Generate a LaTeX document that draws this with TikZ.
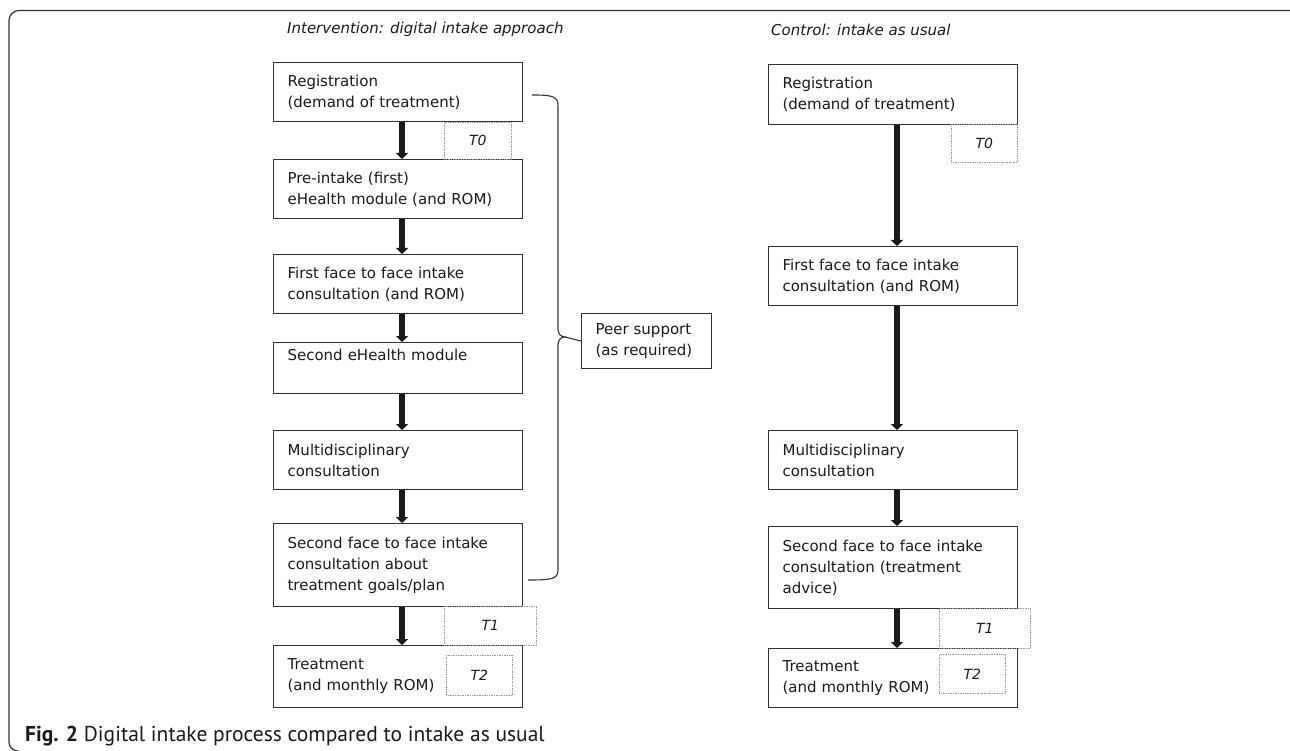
\documentclass[tikz,border=0pt]{standalone}
\usepackage{fontspec}
\setmainfont{DejaVu Sans}
\newfontfamily\capfont{PT Sans}
\usetikzlibrary{arrows.meta}
\definecolor{edge}{HTML}{333333}
\definecolor{ink}{HTML}{1A1A1A}
\begin{document}
\begin{tikzpicture}[x=1pt,y=-1pt,
  stepbox/.style={draw=edge,line width=1.1pt,anchor=north west,minimum width=249pt,
    text width=221pt,inner xsep=14pt,inner ysep=0pt,align=left,
    font=\fontsize{15}{21}\selectfont,text=ink},
  tbox/.style={draw=gray!80,densely dotted,line width=0.7pt,anchor=north west,inner sep=0pt,
    font=\fontsize{14}{16}\selectfont\itshape,text=ink},
  arr/.style={draw=ink,line width=6pt,-{Triangle[width=12pt,length=6pt]}},
  title/.style={anchor=base west,inner sep=0pt,font=\fontsize{15}{17}\selectfont\itshape,text=ink}]
\useasboundingbox (0,0) rectangle (1290,751);
% frame
\draw[edge,line width=1.2pt] (1290,10.5) -- (19,10.5) arc[start angle=270,end angle=180,radius=10] -- (9,742) arc[start angle=180,end angle=90,radius=9];
% titles
\node[title] (tl) at (287,34) {Intervention: digital intake approach};
\node[title] (tr) at (771,36) {Control: intake as usual};
% left column
\node[stepbox,minimum height=59pt] (l1) at (273,62) {Registration\\(demand of treatment)};
\node[stepbox,minimum height=59pt] (l2) at (273,159) {Pre-intake (first)\\eHealth module (and ROM)};
\node[stepbox,minimum height=59pt] (l3) at (273,254) {First face to face intake\\consultation (and ROM)};
\node[stepbox,minimum height=51pt] (l4) at (273,342) {Second eHealth module\\\strut};
\node[stepbox,minimum height=59pt] (l5) at (273,430) {Multidisciplinary\\consultation};
\node[stepbox,minimum height=83pt] (l6) at (273,523) {Second face to face intake\\consultation about\\treatment goals/plan};
\node[stepbox,minimum height=62pt] (l7) at (273,645) {Treatment\\(and monthly ROM)};
\node[tbox,minimum width=67pt,minimum height=37pt] (lt0) at (444,122) {T0};
\node[tbox,minimum width=92pt,minimum height=39pt] (lt1) at (444,606) {T1};
\node[tbox,minimum width=66pt,minimum height=40pt] (lt2) at (446,655) {T2};
\coordinate (axL) at (402,0);
\draw[arr] (l1.south -| axL) -- (l2.north -| axL);
\draw[arr] (l2.south -| axL) -- (l3.north -| axL);
\draw[arr] (l3.south -| axL) -- (l4.north -| axL);
\draw[arr] (l4.south -| axL) -- (l5.north -| axL);
\draw[arr] (l5.south -| axL) -- (l6.north -| axL);
\draw[arr] (l6.south -| axL) -- (l7.north -| axL);
% peer support
\node[stepbox,minimum width=130pt,text width=102pt,minimum height=55pt] (peer) at (581,313) {Peer support\\(as required)};
\coordinate (tip) at (565,337);
\draw[edge,line width=1.1pt] (532,95) .. controls (552,95) and (558,96) .. (558,106) -- (558,329)
  .. controls (558,334) and (561,337) .. (tip)
  .. controls (561,337) and (558,340) .. (558,345) -- (558,570)
  .. controls (558,579) and (552,580) .. (528,580);
\draw[edge,line width=1.1pt] (tip) -- (peer.west);
% right column
\node[stepbox,minimum height=60pt] (r1) at (768,64) {Registration\\(demand of treatment)};
\node[stepbox,minimum height=59pt] (r2) at (768,246) {First face to face intake\\consultation (and ROM)};
\node[stepbox,minimum height=59pt] (r3) at (768,430) {Multidisciplinary\\consultation};
\node[stepbox,minimum height=82pt] (r4) at (768,526) {Second face to face intake\\consultation (treatment\\advice)};
\node[stepbox,minimum height=59pt] (r5) at (768,648) {Treatment\\(and monthly ROM)};
\node[tbox,minimum width=66pt,minimum height=38pt] (rt0) at (951,124) {T0};
\node[tbox,minimum width=91pt,minimum height=40pt] (rt1) at (939,608) {T1};
\node[tbox,minimum width=66pt,minimum height=39pt] (rt2) at (939,654) {T2};
\coordinate (axR) at (897,0);
\draw[arr] (r1.south -| axR) -- (r2.north -| axR);
\draw[arr] (r2.south -| axR) -- (r3.north -| axR);
\draw[arr] (r3.south -| axR) -- (r4.north -| axR);
\draw[arr] (r4.south -| axR) -- (r5.north -| axR);
% caption
\node[anchor=base west,inner sep=0pt,font=\capfont\fontsize{21.5}{24}\selectfont,text=ink] (cap) at (25,741) {\textbf{Fig. 2} Digital intake process compared to intake as usual};
\end{tikzpicture}
\end{document}
